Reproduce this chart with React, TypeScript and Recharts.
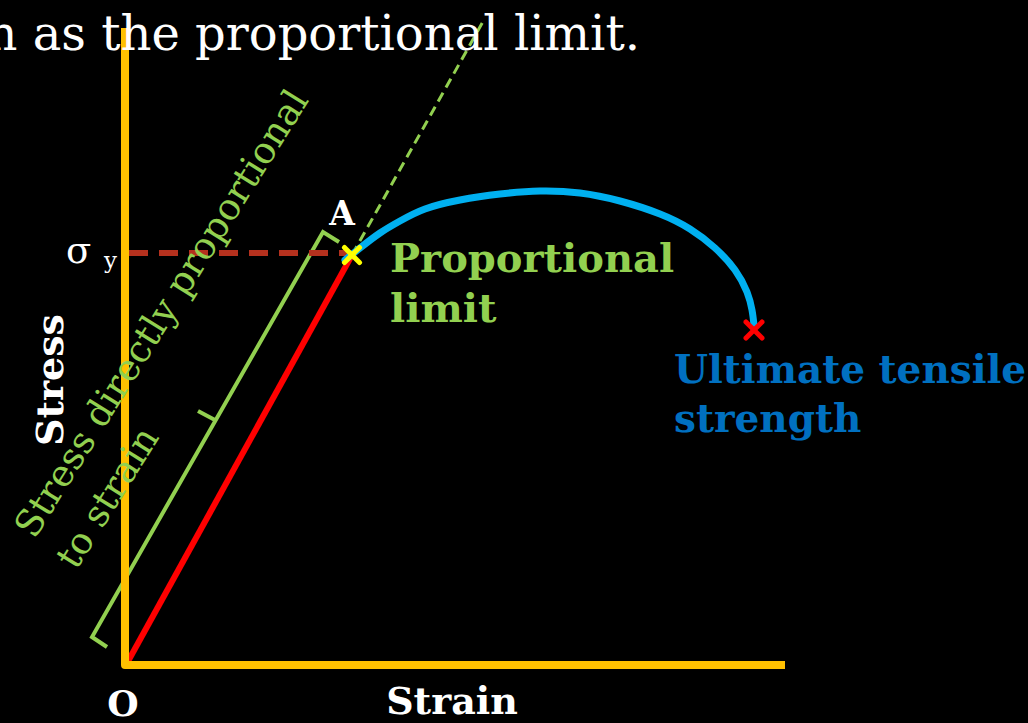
import React from 'react';
import { ComposedChart, Line, Scatter, XAxis, YAxis } from 'recharts';

// Units: strain / stress in arbitrary diagram units (origin at O)
const axisPoints = [
  { x: 0, y: 6.37 },
  { x: 0, y: 0 },
  { x: 6.6, y: 0 },
];
const elasticLine = [
  { x: 0.01, y: 0 },
  { x: 2.27, y: 4.1 },
];
const proportionalExtension = [
  { x: 2.27, y: 4.1 },
  { x: 3.6, y: 6.47 },
];
const yieldGuide = [
  { x: 0.04, y: 4.12 },
  { x: 2.22, y: 4.12 },
];
const plasticCurve = [
  { x: 2.2, y: 4.05 },
  { x: 2.35, y: 4.17 },
  { x: 2.55, y: 4.32 },
  { x: 2.75, y: 4.44 },
  { x: 3.0, y: 4.56 },
  { x: 3.35, y: 4.65 },
  { x: 3.75, y: 4.71 },
  { x: 4.15, y: 4.74 },
  { x: 4.55, y: 4.72 },
  { x: 4.95, y: 4.64 },
  { x: 5.35, y: 4.51 },
  { x: 5.65, y: 4.36 },
  { x: 5.9, y: 4.17 },
  { x: 6.1, y: 3.95 },
  { x: 6.22, y: 3.73 },
  { x: 6.27, y: 3.55 },
  { x: 6.29, y: 3.4 },
];
const bracketMain = [
  { x: -0.18, y: 0.18 },
  { x: -0.33, y: 0.28 },
  { x: 1.98, y: 4.33 },
  { x: 2.14, y: 4.23 },
];
const bracketMiddle = [
  { x: 0.9, y: 2.45 },
  { x: 0.73, y: 2.54 },
];
const proportionalLimitPoint = [{ x: 2.27, y: 4.1 }];
const ultimatePoint = [{ x: 6.29, y: 3.35 }];

const X_DOMAIN: [number, number] = [-1.25, 9.03];
const Y_DOMAIN: [number, number] = [-0.58, 6.65];

const makeCross = (color: string, s: number) => (props: any) => {
  const { cx, cy } = props;
  return (
    <g>
      <line x1={cx - s} y1={cy - s} x2={cx + s} y2={cy + s} stroke={color} strokeWidth={5} strokeLinecap="round" />
      <line x1={cx - s} y1={cy + s} x2={cx + s} y2={cy - s} stroke={color} strokeWidth={5} strokeLinecap="round" />
    </g>
  );
};

const serif = '"DejaVu Serif", "Liberation Serif", serif';
const GREEN = '#92D050';

const lineCommon = { dot: false, activeDot: false, isAnimationActive: false } as const;

export default function App() {
  return (
    <div style={{ position: 'fixed', left: 0, top: 0, width: 1028, height: 723, background: '#000', overflow: 'hidden' }}>
      <div style={{ position: 'absolute', left: 0, top: 0 }}>
        <ComposedChart width={1028} height={723} margin={{ top: 0, right: 0, bottom: 0, left: 0 }}>
          <XAxis dataKey="x" type="number" domain={X_DOMAIN} allowDataOverflow hide />
          <YAxis dataKey="y" type="number" domain={Y_DOMAIN} allowDataOverflow hide />
          <Line {...lineCommon} data={bracketMain} dataKey="y" type="linear" stroke={GREEN} strokeWidth={4} strokeLinejoin="miter" />
          <Line {...lineCommon} data={bracketMiddle} dataKey="y" type="linear" stroke={GREEN} strokeWidth={4} />
          <Line {...lineCommon} data={proportionalExtension} dataKey="y" type="linear" stroke={GREEN} strokeWidth={3} strokeDasharray="10 6" />
          <Line {...lineCommon} data={yieldGuide} dataKey="y" type="linear" stroke="#B5311E" strokeWidth={6} strokeDasharray="19 11" />
          <Line {...lineCommon} data={elasticLine} dataKey="y" type="linear" stroke="#FF0000" strokeWidth={6} />
          <Line {...lineCommon} data={plasticCurve} dataKey="y" type="natural" stroke="#00B0F0" strokeWidth={7} strokeLinecap="round" />
          <Line {...lineCommon} data={axisPoints} dataKey="y" type="linear" stroke="#FFC000" strokeWidth={8} strokeLinejoin="round" />
          <Scatter data={proportionalLimitPoint} dataKey="y" shape={makeCross('#FFFF00', 7.5)} isAnimationActive={false} />
          <Scatter data={ultimatePoint} dataKey="y" shape={makeCross('#FF0000', 8)} isAnimationActive={false} />
        </ComposedChart>
      </div>
      <svg width={1028} height={723} style={{ position: 'absolute', left: 0, top: 0, pointerEvents: 'none' }}>
        <text x={640} y={50} textAnchor="end" fill="#fff" fontFamily={serif} fontSize={48}>n as the proportional limit.</text>
        <text x={342} y={225} textAnchor="middle" fill="#fff" fontFamily={serif} fontWeight="bold" fontSize={33}>A</text>
        <text x={66} y={263} fill="#fff" fontFamily={serif} fontSize={37}>σ</text>
        <text x={104} y={268} fill="#fff" fontFamily={serif} fontSize={23}>y</text>
        <text x={390} y={272} fill={GREEN} fontFamily={serif} fontWeight="bold" fontSize={40}>Proportional</text>
        <text x={390} y={322} fill={GREEN} fontFamily={serif} fontWeight="bold" fontSize={40}>limit</text>
        <text x={674} y={383} fill="#0070C0" fontFamily={serif} fontWeight="bold" fontSize={39}>Ultimate tensile</text>
        <text x={674} y={432} fill="#0070C0" fontFamily={serif} fontWeight="bold" fontSize={39}>strength</text>
        <text x={452} y={714} textAnchor="middle" fill="#fff" fontFamily={serif} fontWeight="bold" fontSize={38}>Strain</text>
        <text x={123} y={716} textAnchor="middle" fill="#fff" fontFamily={serif} fontWeight="bold" fontSize={36}>O</text>
        <text x={0} y={0} textAnchor="middle" fill="#fff" fontFamily={serif} fontWeight="bold" fontSize={38} transform="translate(63,380) rotate(-90)">Stress</text>
        <text x={0} y={0} textAnchor="middle" fill={GREEN} fontFamily={serif} fontSize={37} transform="translate(172,320) rotate(-58)">Stress directly proportional</text>
        <text x={0} y={0} textAnchor="middle" fill={GREEN} fontFamily={serif} fontSize={37} transform="translate(118,504) rotate(-58)">to strain</text>
      </svg>
    </div>
  );
}
